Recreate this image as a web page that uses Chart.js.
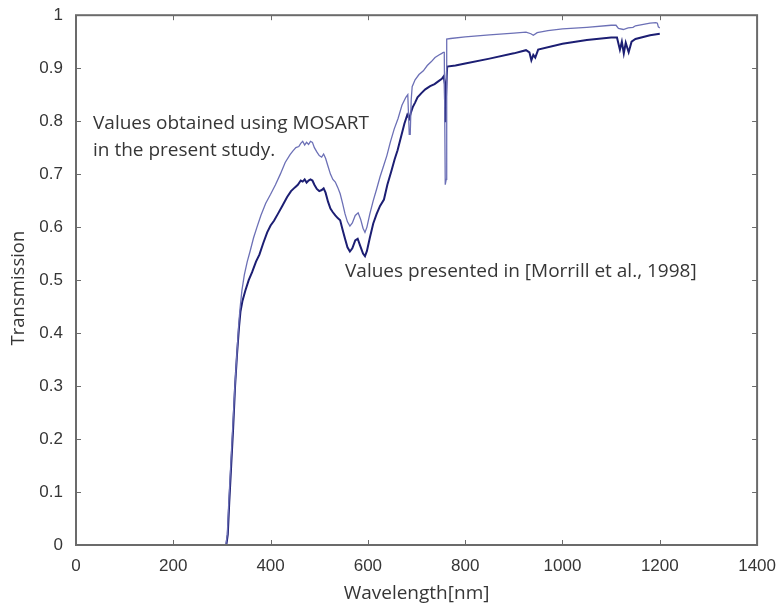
<!DOCTYPE html>
<html>
<head>
<meta charset="utf-8">
<script src="https://cdn.jsdelivr.net/npm/chart.js@4.4.0/dist/chart.umd.min.js"></script>
<style>
html,body{margin:0;padding:0;background:#fff;}
#wrap{width:779px;height:609px;position:relative;}
</style>
</head>
<body>
<div id="wrap"><canvas id="c" width="779" height="609"></canvas></div>
<script>
// Wavelength [nm] and transmission for the MOSART curve (upper)
const mosartWl = [200,308,311,314,318,322,326,330,334,337,341,346,352,358,365,372,380,390,400,410,420,430,440,446,452,458,462,466,470,474,478,482,486,490,495,500,505,509,513,518,523,528,533,538,543,548,553,558,563,568,574,580,585,590,594,598,604,611,618,625,632,639,646,654,662,670,678,682,685,687,689,691,697,705,714,722,730,738,746,752,755,757,759,761,762,770,800,850,900,925,935,940,948,970,1000,1050,1100,1110,1115,1125,1135,1145,1150,1180,1192,1195,1197,1200];
const mosartT  = [0,0,0.02,0.08,0.15,0.22,0.29,0.35,0.41,0.445,0.48,0.51,0.535,0.555,0.58,0.6,0.622,0.645,0.662,0.68,0.7,0.722,0.737,0.744,0.75,0.752,0.758,0.762,0.755,0.76,0.756,0.762,0.76,0.75,0.742,0.735,0.732,0.738,0.73,0.715,0.7,0.69,0.685,0.675,0.663,0.645,0.625,0.61,0.602,0.608,0.622,0.627,0.615,0.598,0.59,0.6,0.625,0.65,0.672,0.695,0.715,0.735,0.76,0.785,0.805,0.83,0.845,0.85,0.775,0.775,0.84,0.865,0.878,0.888,0.895,0.905,0.912,0.92,0.925,0.928,0.93,0.93,0.68,0.69,0.955,0.956,0.959,0.963,0.966,0.968,0.965,0.962,0.967,0.971,0.974,0.977,0.981,0.981,0.975,0.973,0.976,0.977,0.98,0.985,0.986,0.985,0.978,0.976];

// Wavelength [nm] and transmission from Morrill et al., 1998 (lower)
const morrillWl = [200,309,312,315,319,323,327,331,335,338,342,348,355,362,370,377,385,393,400,407,415,424,434,442,450,456,462,466,470,474,478,482,486,490,495,500,505,509,513,518,523,528,533,538,543,548,553,558,563,568,574,579,584,590,594,598,604,611,618,625,633,640,648,655,661,668,675,681,685,688,692,697,702,710,718,728,737,746,752,756,758,759,760,762,763,780,800,850,900,925,932,936,940,944,950,1000,1050,1100,1112,1118,1122,1126,1130,1136,1142,1150,1180,1200];
const morrillT  = [0,0,0.02,0.08,0.15,0.22,0.3,0.36,0.41,0.44,0.46,0.48,0.5,0.515,0.535,0.548,0.57,0.59,0.603,0.612,0.625,0.64,0.657,0.668,0.675,0.68,0.688,0.686,0.69,0.684,0.688,0.69,0.688,0.68,0.672,0.668,0.67,0.673,0.665,0.648,0.635,0.628,0.622,0.617,0.613,0.595,0.578,0.562,0.554,0.56,0.575,0.578,0.565,0.55,0.545,0.555,0.58,0.607,0.625,0.64,0.652,0.68,0.705,0.728,0.745,0.77,0.795,0.812,0.805,0.815,0.826,0.835,0.845,0.853,0.86,0.866,0.87,0.876,0.88,0.885,0.87,0.8,0.83,0.885,0.903,0.905,0.909,0.918,0.928,0.934,0.93,0.915,0.925,0.92,0.935,0.946,0.953,0.958,0.958,0.935,0.95,0.928,0.948,0.93,0.95,0.955,0.962,0.965];

const xTickLabels = ['0','200','400','600','800','1000','1200','1400'];
const yTickLabels = ['0','0.1','0.2','0.3','0.4','0.5','0.6','0.7','0.8','0.9','1'];

const toPts = (xs, ys) => xs.map((x, i) => ({x: x, y: ys[i]}));

const TXT = '#363636';
const AX = '#6b6b6b';

const framePlugin = {
  id: 'frame',
  afterDraw(chart) {
    const {ctx, chartArea: a, scales: {x, y}} = chart;
    ctx.save();
    ctx.strokeStyle = AX;
    ctx.lineWidth = 2;
    ctx.strokeRect(a.left, a.top, a.right - a.left, a.bottom - a.top);
    ctx.lineWidth = 1;
    const L = 5;
    x.ticks.forEach(t => {
      const px = Math.round(x.getPixelForValue(t.value)) + 0.5;
      ctx.beginPath();
      ctx.moveTo(px, a.bottom); ctx.lineTo(px, a.bottom - L);
      ctx.moveTo(px, a.top); ctx.lineTo(px, a.top + L);
      ctx.stroke();
    });
    y.ticks.forEach(t => {
      const py = Math.round(y.getPixelForValue(t.value)) + 0.5;
      ctx.beginPath();
      ctx.moveTo(a.left, py); ctx.lineTo(a.left + L, py);
      ctx.moveTo(a.right, py); ctx.lineTo(a.right - L, py);
      ctx.stroke();
    });
    // annotations
    ctx.fillStyle = TXT;
    ctx.font = '19px "Open Sans"';
    ctx.textBaseline = 'middle';
    ctx.textAlign = 'left';
    ctx.fillText('Values obtained using MOSART', x.getPixelForValue(35), y.getPixelForValue(0.796));
    ctx.fillText('in the present study.', x.getPixelForValue(35), y.getPixelForValue(0.744));
    ctx.fillText('Values presented in [Morrill et al., 1998]', x.getPixelForValue(553), y.getPixelForValue(0.516));
    // y axis title
    ctx.save();
    ctx.translate(19, y.getPixelForValue(0.485));
    ctx.rotate(-Math.PI / 2);
    ctx.textAlign = 'center';
    ctx.font = '18.5px "Open Sans"';
    ctx.fillText('Transmission', 0, 0);
    ctx.restore();
    ctx.restore();
  }
};

new Chart(document.getElementById('c'), {
  type: 'scatter',
  data: {
    datasets: [
      {
        label: 'MOSART',
        data: toPts(mosartWl, mosartT),
        showLine: true,
        borderColor: 'rgb(108,112,182)',
        borderWidth: 1.3,
        pointRadius: 0,
        tension: 0
      },
      {
        label: 'Morrill et al., 1998',
        data: toPts(morrillWl, morrillT),
        showLine: true,
        borderColor: 'rgb(28,30,115)',
        borderWidth: 2,
        pointRadius: 0,
        tension: 0
      }
    ]
  },
  options: {
    responsive: false,
    animation: false,
    events: [],
    layout: {padding: {left: 0, right: 18, top: 10, bottom: 0}},
    plugins: {legend: {display: false}, tooltip: {enabled: false}},
    scales: {
      x: {
        type: 'linear', min: 0, max: 1400,
        afterBuildTicks: s => { s.ticks = xTickLabels.map(v => ({value: +v})); },
        afterFit: s => { s.height = 64; },
        grid: {display: false},
        border: {display: false},
        ticks: {color: TXT, font: {family: '"Liberation Sans"', size: 17}, padding: 3,
                callback: (v) => xTickLabels.find(l => +l === v)},
        title: {display: true, text: 'Wavelength[nm]', color: TXT,
                font: {family: '"Open Sans"', size: 19}, padding: {top: 0, bottom: 4}}
      },
      y: {
        type: 'linear', min: 0, max: 1,
        afterBuildTicks: s => { s.ticks = yTickLabels.map(v => ({value: +v})); },
        afterFit: s => { s.width = 76; },
        grid: {display: false},
        border: {display: false},
        ticks: {color: TXT, font: {family: '"Liberation Sans"', size: 17}, padding: 5,
                callback: (v) => yTickLabels.find(l => Math.abs(+l - v) < 1e-9)},
        title: {display: false}
      }
    }
  },
  plugins: [framePlugin]
});
</script>
</body>
</html>
